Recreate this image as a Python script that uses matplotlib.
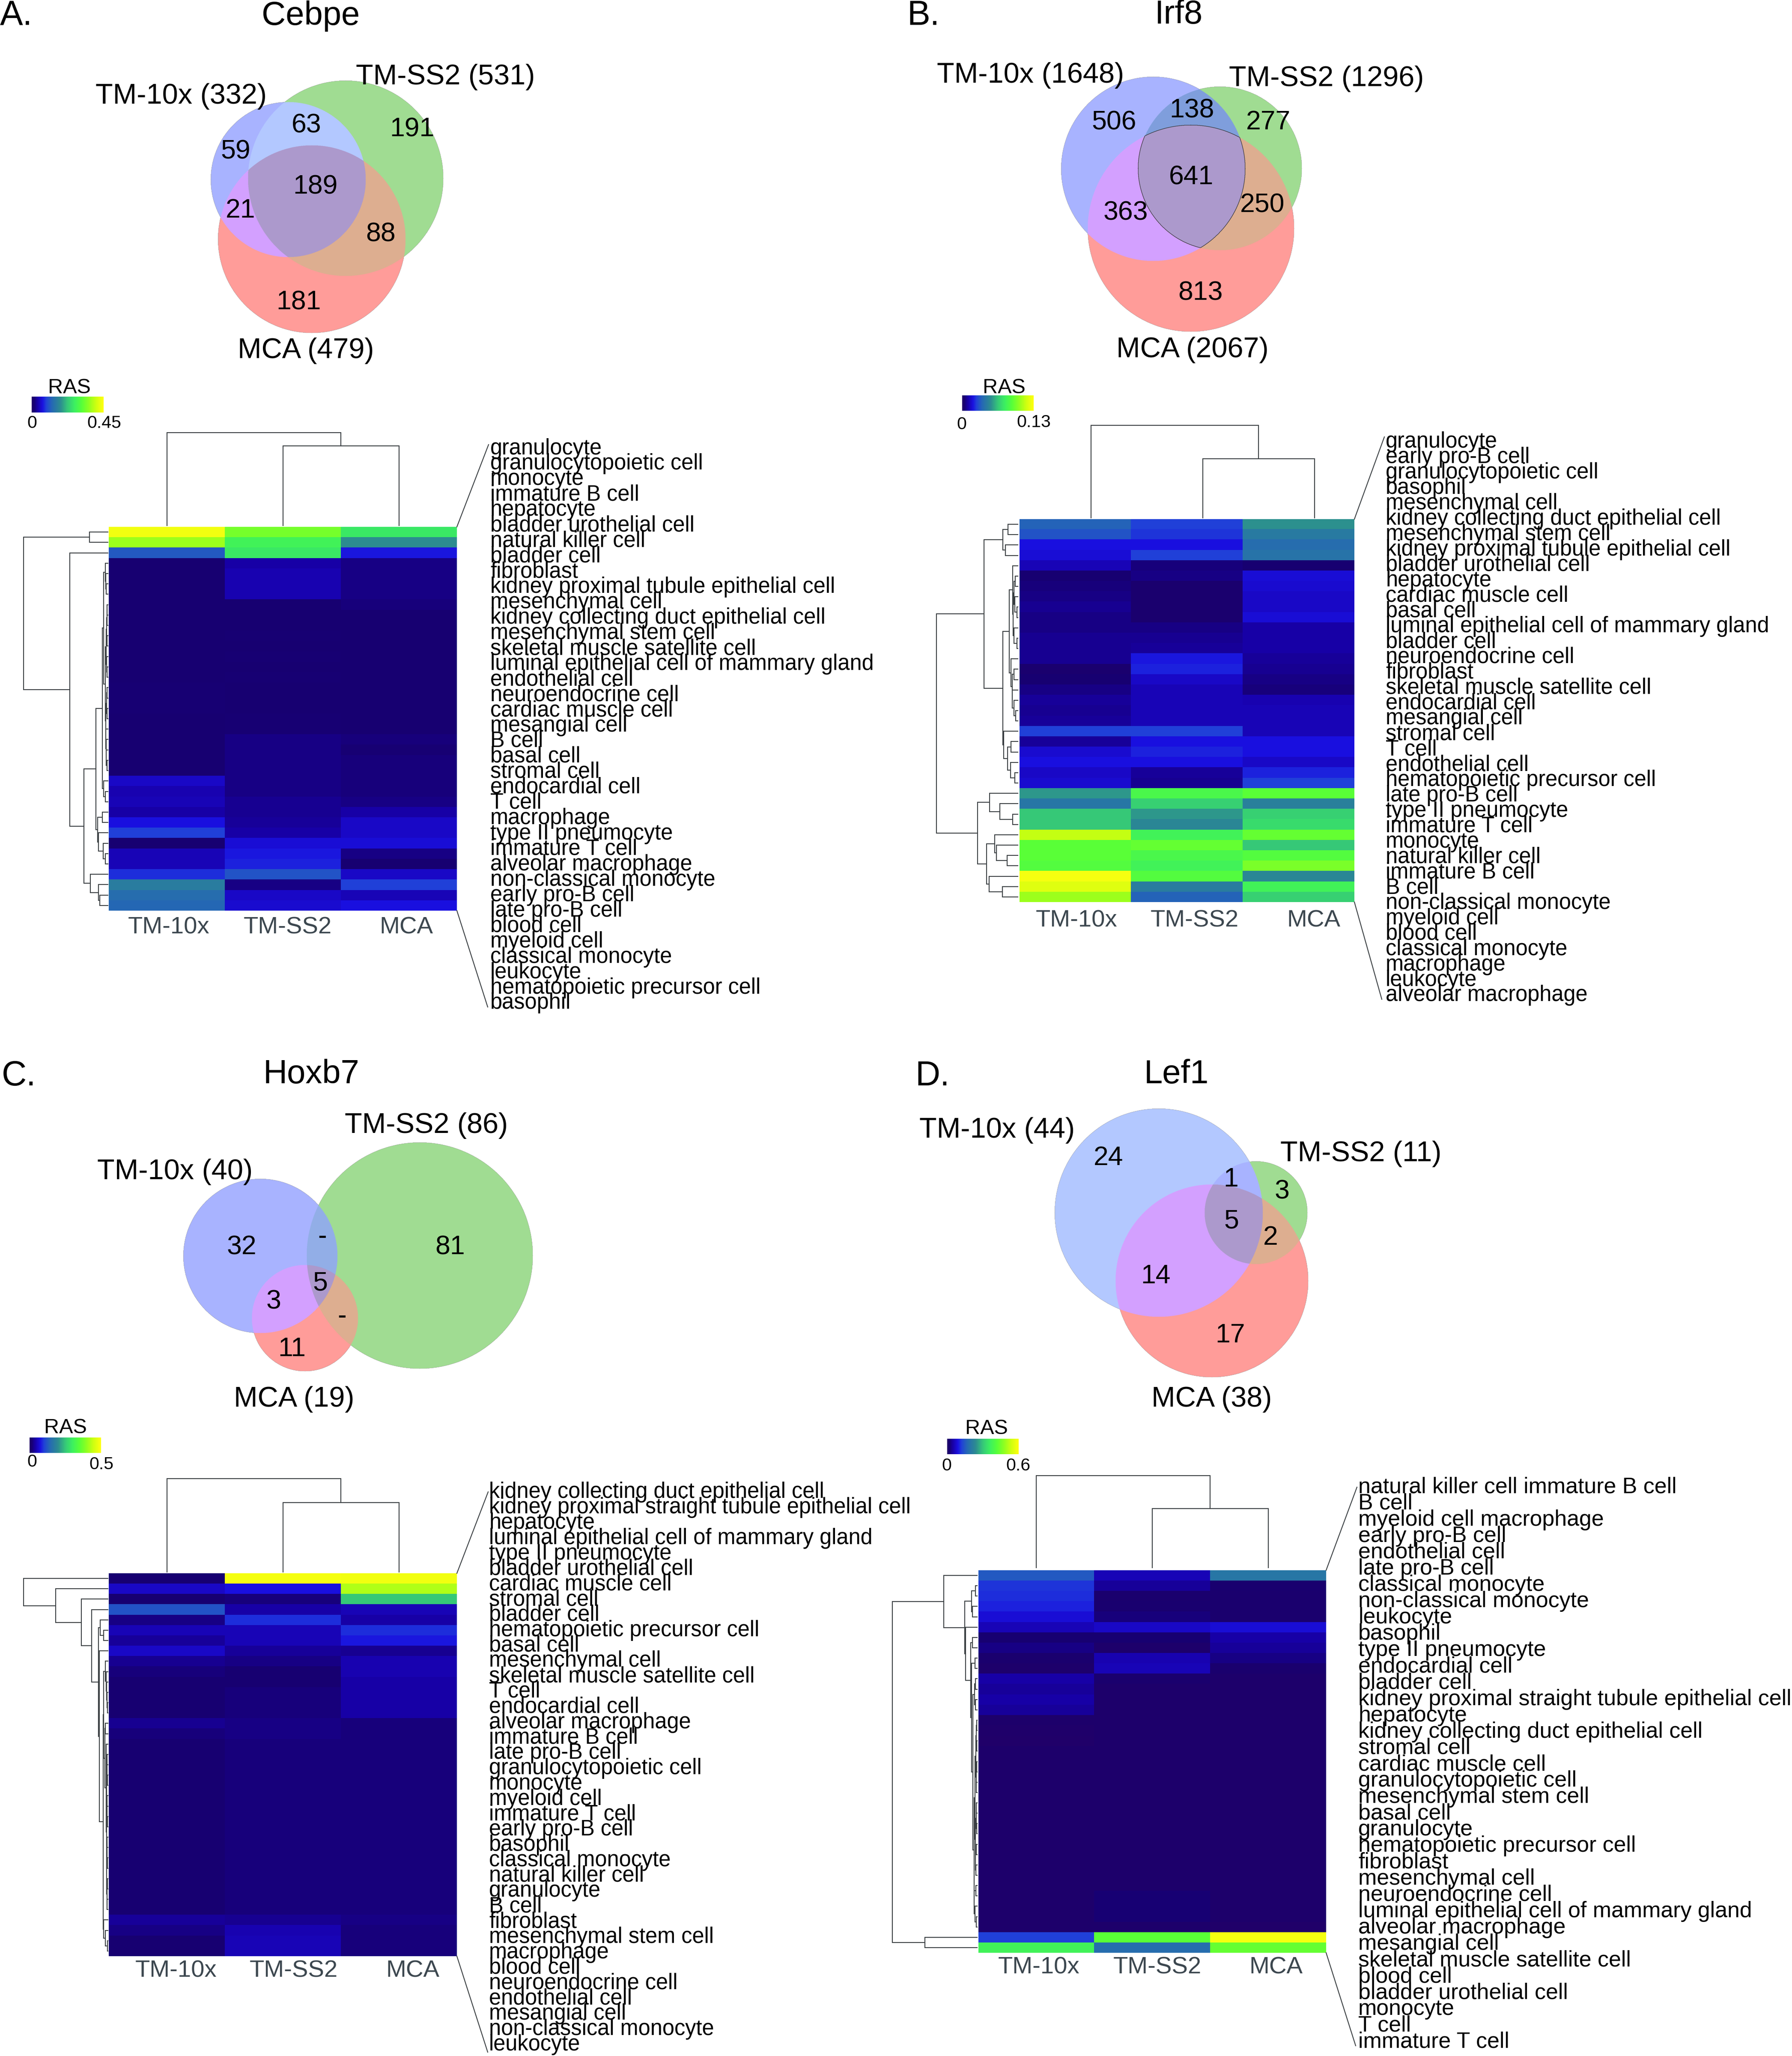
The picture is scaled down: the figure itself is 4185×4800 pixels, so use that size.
"""Regulon overlap venns and RAS heatmaps for Cebpe, Irf8, Hoxb7 and Lef1."""

import matplotlib

matplotlib.use("Agg")
import matplotlib.pyplot as plt
import numpy as np
from matplotlib.colorbar import Colorbar
from matplotlib.colors import LinearSegmentedColormap, Normalize, to_rgba

plt.rcParams["font.family"] = ["Liberation Sans", "DejaVu Sans"]

W, H = 4185, 4800
COLUMNS = ["TM-10x", "TM-SS2", "MCA"]

LABELS_A = [
    "granulocyte", "granulocytopoietic cell", "monocyte", "immature B cell", "hepatocyte",
    "bladder urothelial cell", "natural killer cell", "bladder cell", "fibroblast",
    "kidney proximal tubule epithelial cell", "mesenchymal cell",
    "kidney collecting duct epithelial cell", "mesenchymal stem cell",
    "skeletal muscle satellite cell", "luminal epithelial cell of mammary gland",
    "endothelial cell", "neuroendocrine cell", "cardiac muscle cell", "mesangial cell",
    "B cell", "basal cell", "stromal cell", "endocardial cell", "T cell", "macrophage",
    "type II pneumocyte", "immature T cell", "alveolar macrophage", "non-classical monocyte",
    "early pro-B cell", "late pro-B cell", "blood cell", "myeloid cell", "classical monocyte",
    "leukocyte", "hematopoietic precursor cell", "basophil",
]
LABELS_B = [
    "granulocyte", "early pro-B cell", "granulocytopoietic cell", "basophil", "mesenchymal cell",
    "kidney collecting duct epithelial cell", "mesenchymal stem cell",
    "kidney proximal tubule epithelial cell", "bladder urothelial cell", "hepatocyte",
    "cardiac muscle cell", "basal cell", "luminal epithelial cell of mammary gland",
    "bladder cell", "neuroendocrine cell", "fibroblast", "skeletal muscle satellite cell",
    "endocardial cell", "mesangial cell", "stromal cell", "T cell", "endothelial cell",
    "hematopoietic precursor cell", "late pro-B cell", "type II pneumocyte", "immature T cell",
    "monocyte", "natural killer cell", "immature B cell", "B cell", "non-classical monocyte",
    "myeloid cell", "blood cell", "classical monocyte", "macrophage", "leukocyte",
    "alveolar macrophage",
]
LABELS_C = [
    "kidney collecting duct epithelial cell", "kidney proximal straight tubule epithelial cell",
    "hepatocyte", "luminal epithelial cell of mammary gland", "type II pneumocyte",
    "bladder urothelial cell", "cardiac muscle cell", "stromal cell", "bladder cell",
    "hematopoietic precursor cell", "basal cell", "mesenchymal cell",
    "skeletal muscle satellite cell", "T cell", "endocardial cell", "alveolar macrophage",
    "immature B cell", "late pro-B cell", "granulocytopoietic cell", "monocyte", "myeloid cell",
    "immature T cell", "early pro-B cell", "basophil", "classical monocyte",
    "natural killer cell", "granulocyte", "B cell", "fibroblast", "mesenchymal stem cell",
    "macrophage", "blood cell", "neuroendocrine cell", "endothelial cell", "mesangial cell",
    "non-classical monocyte", "leukocyte",
]
LABELS_D = [
    "natural killer cell immature B cell", "B cell", "myeloid cell macrophage",
    "early pro-B cell", "endothelial cell", "late pro-B cell", "classical monocyte",
    "non-classical monocyte", "leukocyte", "basophil", "type II pneumocyte", "endocardial cell",
    "bladder cell", "kidney proximal straight tubule epithelial cell", "hepatocyte",
    "kidney collecting duct epithelial cell", "stromal cell", "cardiac muscle cell",
    "granulocytopoietic cell", "mesenchymal stem cell", "basal cell", "granulocyte",
    "hematopoietic precursor cell", "fibroblast", "mesenchymal cell", "neuroendocrine cell",
    "luminal epithelial cell of mammary gland", "alveolar macrophage", "mesangial cell",
    "skeletal muscle satellite cell", "blood cell", "bladder urothelial cell", "monocyte",
    "T cell", "immature T cell",
]

# RAS per row as a share of the panel maximum, columns TM-10x, TM-SS2, MCA
RAS_A = [
    [.97, .75, .58], [.82, .62, .40], [.25, .58, .16], [.03, .08, .05], [.03, .09, .05],
    [.03, .09, .05], [.03, .09, .05], [.03, .03, .04], [.03, .03, .03], [.03, .03, .03],
    [.03, .035, .03], [.03, .03, .03], [.03, .035, .03], [.03, .03, .03], [.03, .035, .03],
    [.035, .03, .03], [.035, .03, .03], [.035, .03, .03], [.03, .035, .03], [.03, .035, .03],
    [.03, .05, .04], [.03, .05, .035], [.03, .05, .04], [.03, .05, .04], [.12, .05, .04],
    [.09, .05, .04], [.10, .06, .05], [.08, .06, .08], [.15, .07, .12], [.20, .08, .12],
    [.03, .14, .14], [.10, .16, .05], [.10, .17, .03], [.18, .24, .12], [.35, .05, .20],
    [.30, .12, .10], [.28, .13, .15],
]
RAS_B = [
    [.27, .20, .41], [.24, .19, .34], [.15, .15, .30], [.14, .20, .32], [.10, .04, .03],
    [.03, .05, .14], [.04, .02, .13], [.05, .02, .12], [.06, .02, .12], [.05, .02, .14],
    [.05, .05, .08], [.06, .06, .08], [.06, .07, .08], [.06, .16, .07], [.02, .17, .06],
    [.03, .12, .05], [.05, .10, .04], [.07, .10, .09], [.06, .10, .10], [.07, .10, .10],
    [.20, .20, .10], [.07, .15, .15], [.13, .17, .15], [.15, .15, .12], [.12, .07, .17],
    [.13, .06, .20], [.42, .65, .70], [.33, .52, .36], [.50, .42, .52], [.50, .38, .55],
    [.88, .62, .72], [.70, .72, .50], [.70, .65, .68], [.68, .62, .76], [.98, .68, .38],
    [.93, .35, .62], [.82, .27, .52],
]
RAS_C = [
    [.03, .98, .97], [.12, .15, .85], [.03, .04, .50], [.24, .08, .10], [.05, .18, .08],
    [.10, .10, .18], [.07, .10, .16], [.12, .07, .06], [.06, .05, .09], [.04, .03, .09],
    [.03, .03, .08], [.03, .04, .08], [.03, .04, .08], [.03, .04, .08], [.06, .05, .04],
    [.04, .05, .04], [.03, .04, .04], [.03, .04, .04], [.03, .04, .04], [.03, .04, .04],
    [.03, .04, .04], [.03, .04, .04], [.03, .04, .04], [.03, .04, .04], [.03, .04, .04],
    [.03, .04, .04], [.03, .04, .04], [.03, .04, .04], [.03, .04, .04], [.03, .04, .04],
    [.03, .04, .04], [.03, .04, .04], [.03, .04, .04], [.07, .06, .05], [.05, .09, .04],
    [.03, .10, .04], [.03, .10, .04],
]
RAS_D = [
    [.25, .10, .33], [.19, .07, .025], [.18, .02, .02], [.17, .025, .02], [.14, .04, .02],
    [.10, .12, .14], [.03, .03, .08], [.05, .015, .07], [.02, .09, .05], [.015, .10, .02],
    [.08, .02, .015], [.07, .015, .015], [.08, .015, .015], [.07, .015, .015], [.015, .015, .015],
    [.008, .015, .015], [.004, .015, .015], [.012, .012, .012], [.012, .012, .012], [.012, .012, .012],
    [.012, .012, .012], [.012, .012, .012], [.012, .012, .012], [.012, .012, .012], [.012, .012, .012],
    [.012, .012, .012], [.012, .012, .012], [.012, .012, .012], [.012, .012, .012], [.012, .012, .012],
    [.012, .012, .012], [.012, .035, .012], [.012, .035, .012], [.012, .035, .012], [.012, .012, .004],
    [.20, .70, .98], [.62, .30, .72],
]

# row dendrograms, (merge height, upper, lower), L is a leaf
L = 0
ROW_TREE_A = (592, (128, L, L), (267, L, (167,
    (84,
     (40,
      (29, (17, L, (14, L, (12, L, L))),
       (18,
        (11, (8, (6, (5, L, L), L), (7, L, L)), (9, L, (7, L, L))),
        (16, (9, (7, L, L), (6, L, L)), (15, L, (13, L, (11, L, (5, L, L))))))),
      (31, L, (17, L, L))),
     (72, (39, L, L), (66, L, (32, L, (17, L, L))))),
    (122, L, (66, L, (56, L, L))))))
ROW_TREE_B = (572,
    (239,
     (105, (68, L, L), (86, L, L)),
     (105,
      (60,
       (37, L, (32, (28, (18, L, L), (20, L, (5, L, L))), (27, L, (7, L, L)))),
       (49, L, (40, (27, L, L), (39, L, (27, L, (14, L, L)))))),
      (98, L, (72, (47, L, L), (52, L, (22, L, L)))))),
    (282,
     (198, L, (125, L, (35, L, L))),
     (221,
      (162, L, (152, L, (75, L, L))),
      (203, L, (109, L, L)))))
_Z_C = (11, L, (9,
    (8, (6, (5, L, L), (4, L, L)), (6, (5, L, L), (4, L, L))),
    (8, (6, (5, L, L), (4, L, L)), (6, (4, L, L), (5, L, L)))))
ROW_TREE_C = (592, L, (368, L, (187, L, (113, L, (66,
    (53, L, (30, L, L)),
    (59, L, (34,
             (30,
              (17, L, (11, L, (8, L, (6, L, (4, L, L))))),
              (22, (18, L, L), _Z_C)),
             (30, L, (17, L, (4, L, L))))))))))
ROW_TREE_D = (592,
    (233, L, (87,
              (38, (11, L, L), (33, L, L)),
              (82, L, (45,
                       (32, L, L),
                       (38, (15, L, L), (30,
                             (17, (11, L, L), (13, L, L)),
                             (22,
                              (16,
                               (9, (5, (4, L, L), (4, L, L)), (6, (4, L, L), (5, L, L))),
                               (12, (6, (5, L, L), (4, L, L)), (11, (5, L, L), (8, L, L)))),
                              (20, (9, L, L), (15, L, (7, L, L)))))))))),
    (365, L, L))

# top dendrograms over the three columns
COL_TREE_A = (217, L, (186, L, L))
COL_TREE_B = (216, L, (138, L, L))
COL_TREE_C = (218, L, (162, L, L))
COL_TREE_D = (215, L, (138, L, L))

# venn region counts, keyed by membership bits: 10x=1, SS2=2, MCA=4
COUNTS_A = {1: "59", 3: "63", 2: "191", 5: "21", 7: "189", 6: "88", 4: "181"}
COUNTS_B = {1: "506", 3: "138", 2: "277", 5: "363", 7: "641", 6: "250", 4: "813"}
COUNTS_C = {1: "32", 3: "-", 2: "81", 5: "3", 7: "5", 6: "-", 4: "11"}
COUNTS_D = {1: "24", 3: "1", 2: "3", 5: "14", 7: "5", 6: "2", 4: "17"}

REGION_COLORS = {1: "#a8b4ff", 2: "#a0dc92", 3: "#b4c8ff", 4: "#ff9c99",
                 5: "#d4a0ff", 6: "#ddae90", 7: "#ac99cc"}

RAS_CMAP = LinearSegmentedColormap.from_list("ras", [
    (0, "#220068"), (.03, "#170072"), (.08, "#1800a8"), (.15, "#1a10e0"), (.2, "#2040d8"),
    (.28, "#2568b4"), (.4, "#2c8c90"), (.5, "#36c878"), (.6, "#3cf060"), (.7, "#58ff38"),
    (.8, "#90ff20"), (.9, "#d0ff10"), (1, "#ffff10"),
])

# everything below is placement, in pixels of the final image
PANELS = [
    dict(letter="A.", letter_xy=(0, 34), title="Cebpe", title_xy=(726, 34),
         circles=[(673, 419, 181), (807, 416, 228), (728, 558, 219)],
         counts=COUNTS_A,
         count_xy={1: (550, 351), 3: (716, 290), 2: (962, 299), 5: (562, 488), 7: (736, 433),
                   6: (889, 544), 4: (697, 703)},
         sets=[("TM-10x (332)", 423, 222), ("TM-SS2 (531)", 1040, 177), ("MCA (479)", 714, 816)],
         cbar=(74, 926, 242, 963), vmax="0.45",
         ras_xy=(162, 902), zero_xy=(75, 985), max_xy=(243, 985),
         heat=(254, 1230, 1067, 2126), ras=RAS_A, labels=LABELS_A, label_x=1145, label_size=36.4,
         label_y=(1044, 2339), top=((1141, 1038),), bottom=((1139, 2351),),
         row_tree=ROW_TREE_A, row_tree_x=(55, 252), col_tree=COL_TREE_A, col_tree_y=1227,
         col_shift=0, col_xy=[(394, 2163), (672, 2163), (949, 2163)]),
    dict(letter="B.", letter_xy=(2118, 34), title="Irf8", title_xy=(2753, 31),
         circles=[(2693, 394, 215), (2849, 393, 191), (2781, 533, 241)],
         counts=COUNTS_B, region_3="#7f9fdc", outline=True,
         count_xy={1: (2602, 283), 3: (2783, 255), 2: (2962, 283), 5: (2629, 494), 7: (2782, 411),
                   6: (2948, 476), 4: (2803, 681)},
         sets=[("TM-10x (1648)", 2407, 173), ("TM-SS2 (1296)", 3098, 181),
               ("MCA (2067)", 2785, 814)],
         cbar=(2247, 923, 2414, 959), vmax="0.13",
         ras_xy=(2345, 902), zero_xy=(2246, 988), max_xy=(2414, 983),
         heat=(2381, 1212, 3163, 2106), ras=RAS_B, labels=LABELS_B, label_x=3236, label_size=36.4,
         label_y=(1029, 2321), top=((3233, 1020),), bottom=((3227, 2333),),
         row_tree=ROW_TREE_B, row_tree_x=(2187, 2377), col_tree=COL_TREE_B, col_tree_y=1209,
         col_shift=37, col_xy=[(2514, 2146), (2790, 2146), (3068, 2146)]),
    dict(letter="C.", letter_xy=(4, 2510), title="Hoxb7", title_xy=(727, 2506),
         circles=[(608, 2932, 180), (980, 2931, 264), (712, 3077, 124)],
         counts=COUNTS_C, region_3="#92aee8",
         count_xy={1: (564, 2909), 3: (753, 2885), 2: (1051, 2909), 5: (639, 3036), 7: (748, 2993),
                   6: (799, 3070), 4: (682, 3147)},
         sets=[("TM-10x (40)", 409, 2733), ("TM-SS2 (86)", 996, 2625), ("MCA (19)", 687, 3264)],
         cbar=(69, 3356, 236, 3392), vmax="0.5",
         ras_xy=(153, 3330), zero_xy=(75, 3410), max_xy=(237, 3416),
         heat=(254, 3673, 1067, 4567), ras=RAS_C, labels=LABELS_C, label_x=1142, label_size=36.4,
         label_y=(3481, 4770), top=((1140, 3483),), bottom=((1139, 4791),),
         row_tree=ROW_TREE_C, row_tree_x=(55, 252), col_tree=COL_TREE_C, col_tree_y=3670,
         col_shift=0, col_xy=[(411, 4598), (686, 4598), (964, 4598)]),
    dict(letter="D.", letter_xy=(2137, 2510), title="Lef1", title_xy=(2747, 2506),
         circles=[(2706, 2831, 243), (2933, 2831, 120), (2830, 2990, 225)],
         counts=COUNTS_D, region_1="#b4c8ff", region_3="#a8b4ff",
         count_xy={1: (2589, 2700), 3: (2875, 2751), 2: (2994, 2779), 5: (2699, 2976), 7: (2876, 2848),
                   6: (2967, 2887), 4: (2873, 3115)},
         sets=[("TM-10x (44)", 2329, 2636), ("TM-SS2 (11)", 3178, 2691), ("MCA (38)", 2830, 3264)],
         cbar=(2212, 3359, 2379, 3395), vmax="0.6",
         ras_xy=(2304, 3333), zero_xy=(2211, 3419), max_xy=(2378, 3419),
         heat=(2285, 3666, 3097, 4559), ras=RAS_D, labels=LABELS_D, label_x=3172, label_size=37.4,
         label_y=(3469, 4764), top=((3169, 3472),), bottom=((3166, 4776),),
         row_tree=ROW_TREE_D, row_tree_x=(2084, 2282), col_tree=COL_TREE_D, col_tree_y=3660,
         col_shift=0, col_xy=[(2426, 4590), (2703, 4590), (2980, 4590)]),
]

LINE = "#3a3f42"
LW = 1.5
TEXT_DY = 3  # va="center" sits a little above the reference's glyph centres


def px_axes(fig, box):
    x0, y0, x1, y1 = box
    return fig.add_axes([x0 / W, 1 - y1 / H, (x1 - x0) / W, (y1 - y0) / H])


def put_text(ax, x, y, txt, size, ha="center", color="black"):
    ax.text(x, y + TEXT_DY, txt, fontsize=size, ha=ha, va="center", color=color, zorder=3)


def draw_venn(ax, p):
    xs = [c[0] for c in p["circles"]]
    ys = [c[1] for c in p["circles"]]
    rs = [c[2] for c in p["circles"]]
    x0, x1 = min(x - r for x, r in zip(xs, rs)) - 4, max(x + r for x, r in zip(xs, rs)) + 4
    y0, y1 = min(y - r for y, r in zip(ys, rs)) - 4, max(y + r for y, r in zip(ys, rs)) + 4
    gx, gy = np.meshgrid(np.arange(x0, x1, 0.5), np.arange(y0, y1, 0.5))
    codes = np.zeros(gx.shape, dtype=int)
    for bit, (cx, cy, r) in zip((1, 2, 4), p["circles"]):
        codes += bit * ((gx - cx) ** 2 + (gy - cy) ** 2 <= r ** 2)
    rgba = np.zeros(gx.shape + (4,))
    for code, color in REGION_COLORS.items():
        color = p.get(f"region_{code}", color)
        rgba[codes == code] = to_rgba(color)
    ax.imshow(rgba, extent=(x0, x1, y1, y0), aspect="auto", zorder=1)
    if p.get("outline"):
        ax.contour(gx, gy, (codes == 7).astype(float), levels=[0.5], colors="#333333",
                   linewidths=0.8, zorder=2)
    for code, txt in p["counts"].items():
        x, y = p["count_xy"][code]
        put_text(ax, x, y, txt, 45)
    for txt, x, y in p["sets"]:
        put_text(ax, x, y, txt, 48)


def draw_tree(ax, node, leaf_pos, to_xy):
    """Walk a (height, upper, lower) tree, return (position, height) of the node."""
    if node == L:
        return next(leaf_pos), 0
    h, a, b = node
    pa, ha = draw_tree(ax, a, leaf_pos, to_xy)
    pb, hb = draw_tree(ax, b, leaf_pos, to_xy)
    pts = [to_xy(pa, ha), to_xy(pa, h), to_xy(pb, h), to_xy(pb, hb)]
    ax.plot(*zip(*pts), color=LINE, lw=LW, solid_joinstyle="miter", zorder=2)
    return (pa + pb) / 2, h


def draw_heatmap(fig, ax, p):
    x0, y0, x1, y1 = p["heat"]
    ras = np.array(p["ras"])
    hax = px_axes(fig, p["heat"])
    hax.imshow(ras, cmap=RAS_CMAP, vmin=0, vmax=1, aspect="auto", interpolation="nearest")
    hax.axis("off")

    row_h = (y1 - y0) / ras.shape[0]
    col_w = (x1 - x0) / ras.shape[1]
    left, tip = p["row_tree_x"]
    scale = (tip - left) / p["row_tree"][0]
    rows = iter(y0 + (np.arange(ras.shape[0]) + 0.5) * row_h)
    draw_tree(ax, p["row_tree"], rows, lambda pos, h: (tip - h * scale, pos))
    cols = iter(x0 + p["col_shift"] + (np.arange(ras.shape[1]) + 0.5) * col_w)
    draw_tree(ax, p["col_tree"], cols, lambda pos, h: (pos, p["col_tree_y"] - h))

    for name, (x, y) in zip(COLUMNS, p["col_xy"]):
        put_text(ax, x, y, name, 40.5, color="#3c474f")

    ys = np.linspace(*p["label_y"], len(p["labels"]))
    for name, y in zip(p["labels"], ys):
        put_text(ax, p["label_x"], y, name, p["label_size"], ha="left")

    for (x, y), ystart in zip(p["top"] + p["bottom"], (y0, y1)):
        ax.plot([x1, x], [ystart, y], color=LINE, lw=LW, zorder=2)

    cax = px_axes(fig, p["cbar"])
    cb = Colorbar(cax, cmap=RAS_CMAP, norm=Normalize(0, 1), orientation="horizontal", ticks=[])
    cb.outline.set_visible(False)
    put_text(ax, *p["ras_xy"], "RAS", 35)
    put_text(ax, *p["zero_xy"], "0", 29.5)
    put_text(ax, *p["max_xy"], p["vmax"], 29.5)


def main():
    fig = plt.figure(figsize=(W / 100, H / 100), dpi=100, facecolor="white")
    ax = fig.add_axes([0, 0, 1, 1], zorder=5)
    ax.patch.set_alpha(0)
    for p in PANELS:
        draw_venn(ax, p)
        draw_heatmap(fig, ax, p)
        put_text(ax, *p["letter_xy"], p["letter"], 58, ha="left")
        put_text(ax, *p["title_xy"], p["title"], 56)
    ax.set_xlim(0, W)
    ax.set_ylim(H, 0)
    ax.axis("off")
    fig.savefig("out.png", dpi=100)


if __name__ == "__main__":
    main()
